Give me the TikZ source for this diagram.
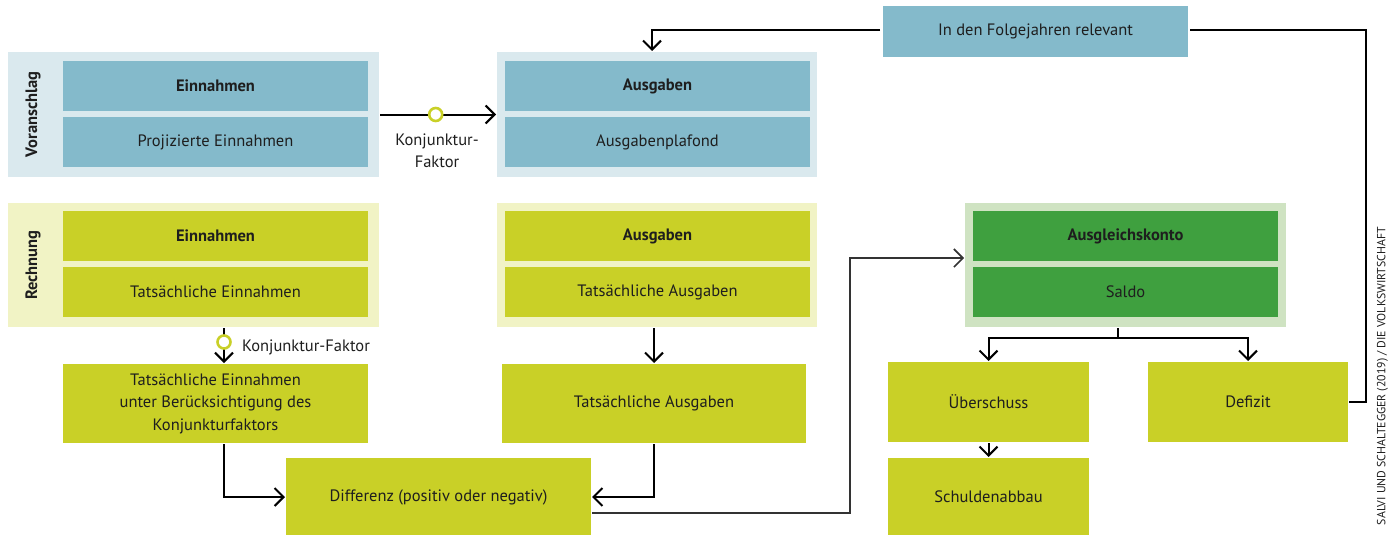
\documentclass[tikz,border=0pt]{standalone}
\usepackage{fontspec}
\setmainfont{PT Sans}
\usetikzlibrary{arrows.meta,positioning}
\definecolor{blaubg}{HTML}{DAE9EE}
\definecolor{blau}{HTML}{84BACB}
\definecolor{gelbbg}{HTML}{F1F3C5}
\definecolor{gelb}{HTML}{C9D027}
\definecolor{gruenbg}{HTML}{CFE3C2}
\definecolor{gruen}{HTML}{3FA03F}
\definecolor{schrift}{HTML}{1E1E1E}
\tikzset{
  feld/.style={rectangle,inner sep=0pt,minimum width=305pt,minimum height=50pt,text=schrift,align=center,font=\fontsize{16.5}{22.5}\selectfont},
  kopf/.style={feld,font=\fontsize{16.5}{22.5}\selectfont\bfseries},
  ring/.style={circle,draw=gelb,fill=white,line width=2.6pt,minimum size=13pt,inner sep=0pt},
  seite/.style={rotate=90,text=schrift,font=\fontsize{16.5}{20}\selectfont\bfseries}
}
\begin{document}
\begin{tikzpicture}[x=1pt,y=-1pt,>={Straight Barb[length=9pt,width=18pt]},line width=2pt]
\useasboundingbox (0,0) rectangle (1397,535);
% Voranschlag
\node[rectangle,fill=blaubg,minimum width=371pt,minimum height=125pt,inner sep=0pt] (vpanel) at (193.5,114.5) {};
\node[kopf,fill=blau] (vein) at (215.5,86) {Einnahmen};
\node[feld,fill=blau] (vproj) at (215.5,142) {Projizierte Einnahmen};
\node[seite] (vlab) at (33,114.5) {Voranschlag};
\node[rectangle,fill=blaubg,minimum width=320pt,minimum height=125pt,inner sep=0pt] (apanel) at (657,114.5) {};
\node[kopf,fill=blau] (aaus) at (657.5,86) {Ausgaben};
\node[feld,fill=blau] (aplaf) at (657.5,142) {Ausgabenplafond};
% Rechnung
\node[rectangle,fill=gelbbg,minimum width=371pt,minimum height=124pt,inner sep=0pt] (rpanel) at (193.5,265) {};
\node[kopf,fill=gelb] (rein) at (215.5,236) {Einnahmen};
\node[feld,fill=gelb] (rtat) at (215.5,292) {Tatsächliche Einnahmen};
\node[seite] (rlab) at (33,265) {Rechnung};
\node[rectangle,fill=gelbbg,minimum width=320pt,minimum height=124pt,inner sep=0pt] (bpanel) at (657,265) {};
\node[kopf,fill=gelb] (baus) at (657.5,236) {Ausgaben};
\node[feld,fill=gelb] (btat) at (657.5,292) {Tatsächliche Ausgaben};
\node[rectangle,fill=gruenbg,minimum width=321pt,minimum height=124pt,inner sep=0pt] (kpanel) at (1125.5,265) {};
\node[kopf,fill=gruen] (kkonto) at (1125.5,236) {Ausgleichskonto};
\node[feld,fill=gruen] (ksaldo) at (1125.5,292) {Saldo};
% untere Kaesten
\node[feld,fill=gelb,minimum height=79pt] (teinkf) at (215.5,403.5) {Tatsächliche Einnahmen\\unter Berücksichtigung des\\Konjunkturfaktors};
\node[feld,fill=gelb,minimum width=304pt,minimum height=79pt] (taus) at (654,403.5) {Tatsächliche Ausgaben};
\node[feld,fill=gelb,minimum height=78pt] (diff) at (438.5,497) {Differenz (positiv oder negativ)};
\node[feld,fill=gelb,minimum width=201pt,minimum height=80pt] (ueber) at (988.5,402) {Überschuss};
\node[feld,fill=gelb,minimum width=200pt,minimum height=80pt] (defizit) at (1248,402) {Defizit};
\node[feld,fill=gelb,minimum width=201pt,minimum height=78pt] (schuld) at (988.5,497) {Schuldenabbau};
% Pfeile
\draw[->] (vpanel.east) -- node[ring,pos=.48] (ring1) {} (apanel.west);
\node[feld,minimum width=0pt,minimum height=0pt] (kf1) at (437,151) {Konjunktur-\\Faktor};
\coordinate (kx) at (224,0);
\draw[->] (rpanel.south -| kx) -- node[ring,pos=.4] (ring2) {} (teinkf.north -| kx);
\node[feld,minimum width=0pt,minimum height=0pt,anchor=west] (kf2) at (241,347) {Konjunktur-Faktor};
\draw[->] (teinkf.south -| kx) |- (diff.west);
\draw[->] (bpanel.south -| taus.north) -- (taus.north);
\draw[->] (taus.south) |- (diff.east);
\draw[->,draw=black!80,line width=1.6pt] ([yshift=-16pt]diff.east) -- ++(258,0) |- ([yshift=7pt]kpanel.west);
\path (ueber.north) -- coordinate[midway] (mitte) (defizit.north);
\draw (kpanel.south -| mitte) -- ++(0,10) coordinate (split);
\draw[->] (split) -| (ueber.north);
\draw[->] (split) -| (defizit.north);
\draw[->] (ueber.south) -- (schuld.north);
\draw (defizit.east) -- ++(17,0) |- (1190,30);
\draw[->] (880,30) -| ([xshift=-5pt]apanel.north);
\node[feld,fill=blau,minimum height=51pt] (folge) at (1035.5,31.5) {In den Folgejahren relevant};
% Quelle
\node[rotate=90,anchor=south east,text=schrift,inner sep=0pt,font=\fontsize{11.8}{14}\selectfont] (quelle) at (1389,226) {SALVI UND SCHALTEGGER (2019) / DIE VOLKSWIRTSCHAFT};
\end{tikzpicture}
\end{document}
